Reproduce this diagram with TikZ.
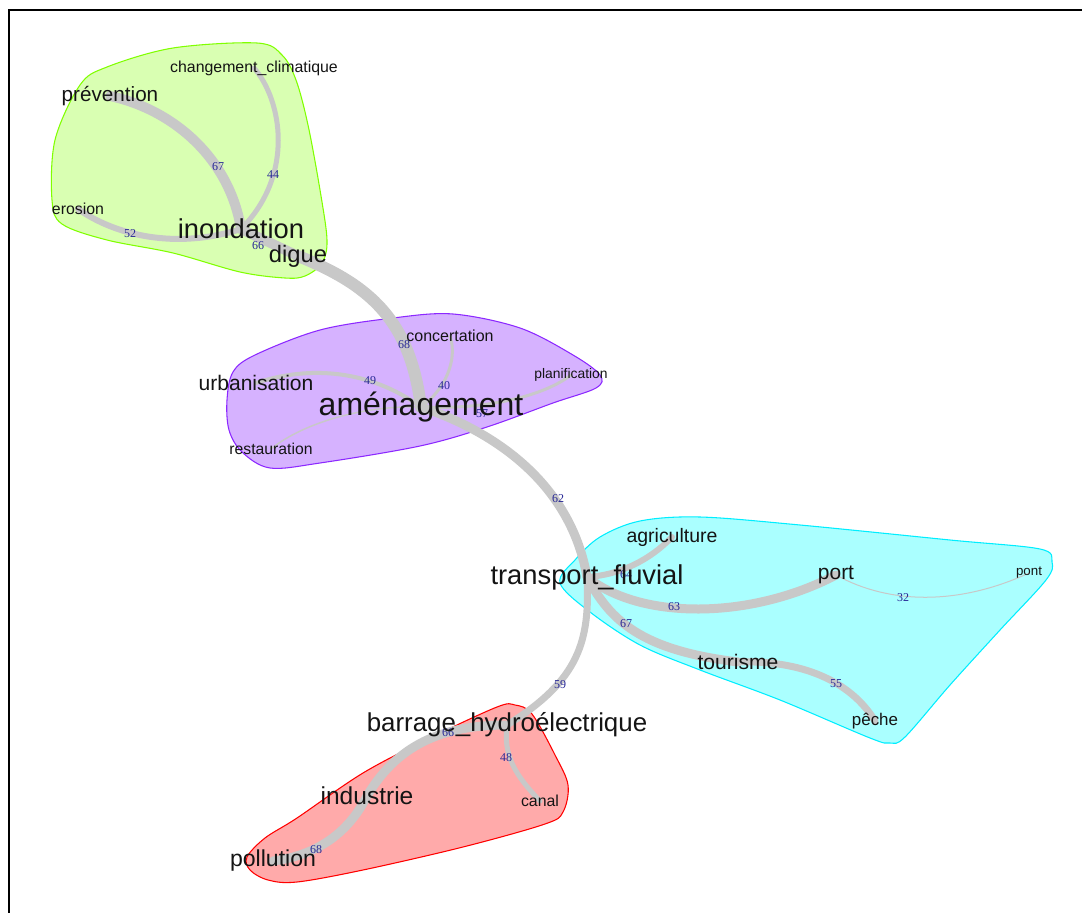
\documentclass[tikz,border=0pt]{standalone}
\usepackage{fontspec}
\setmainfont{Liberation Sans}
\newfontfamily\numfont{Liberation Serif}
\usetikzlibrary{backgrounds}
\pgfdeclarelayer{hull}
\pgfdeclarelayer{edges}
\pgfsetlayers{hull,edges,main}
\definecolor{edgegray}{RGB}{200,200,200}
\definecolor{labblue}{RGB}{40,40,150}
\definecolor{gfill}{RGB}{217,255,178}
\definecolor{gline}{RGB}{128,255,0}
\definecolor{pfill}{RGB}{214,178,255}
\definecolor{pline}{RGB}{140,40,255}
\definecolor{cfill}{RGB}{170,255,255}
\definecolor{cline}{RGB}{0,238,255}
\definecolor{rfill}{RGB}{255,170,170}
\definecolor{rline}{RGB}{255,0,0}
\tikzset{
  word/.style={inner sep=0pt, text=black!92, font=\fontsize{#1}{#1}\selectfont},
  elab/.style={inner sep=0pt, text=labblue, font=\numfont\fontsize{9}{9}\selectfont},
  link/.style={draw=edgegray, line width=#1, line cap=round},
  hullshape/.style={line width=0.8pt},
}
\begin{document}
\begin{tikzpicture}[x=0.75pt,y=-0.75pt]
\useasboundingbox (0,0) rectangle (1082,913);
\draw[line width=1.5pt,black] (9,913) -- (9,10) -- (1082,10);

% word nodes
\node[word=11.9] (chang) at (254,68) {changement\_climatique};
\node[word=15.5] (prev) at (110,96) {prévention};
\node[word=11.9] (eros) at (78,209) {erosion};
\node[word=20.5] (inon) at (241,229) {inondation};
\node[word=17.8] (digue) at (298,256) {digue};
\node[word=12] (conc) at (450,336) {concertation};
\node[word=15.8] (urba) at (256,383) {urbanisation};
\node[word=10.4] (plan) at (571,375) {planification};
\node[word=24] (amen) at (421,407) {aménagement};
\node[word=11.8] (rest) at (271,449) {restauration};
\node[word=14.6] (agri) at (672,537) {agriculture};
\node[word=20.5] (tran) at (587,577) {transport\_fluvial};
\node[word=15.7] (port) at (836,575) {port};
\node[word=10] (pont) at (1029,573) {pont};
\node[word=15.8] (tour) at (738,662) {tourisme};
\node[word=12.7] (peche) at (875,721) {pêche};
\node[word=19.4] (barr) at (507,725) {barrage\_hydroélectrique};
\node[word=18.4] (indu) at (367,796) {industrie};
\node[word=11.9] (canal) at (540,801) {canal};
\node[word=17.3] (poll) at (273,861) {pollution};

\begin{pgfonlayer}{hull}
\filldraw[hullshape, fill=gfill, draw=gline] plot[smooth cycle, tension=0.55] coordinates {
 (52,200) (55,140) (80,85) (107,67) (173,48) (257,43) (282,55) (296,80) (308,125) (320,190) (327,240) (322,263) (305,276) (285,278) (240,272) (173,253) (107,240) (62,224)};
\filldraw[hullshape, fill=pfill, draw=pline] plot[smooth cycle, tension=0.55] coordinates {
 (227,400) (233,372) (255,355) (320,330) (393,318) (453,314) (520,328) (573,355) (600,375) (596,388) (553,403) (487,427) (420,446) (320,463) (270,468) (242,452) (229,430)};
\filldraw[hullshape, fill=cfill, draw=cline] plot[smooth cycle, tension=0.55] coordinates {
 (560,583) (575,560) (600,537) (640,521) (700,517) (800,525) (950,540) (1040,549) (1052,562) (1046,580) (1000,630) (950,685) (905,737) (890,743) (870,738) (780,700) (700,670) (640,645) (590,612)};
\filldraw[hullshape, fill=rfill, draw=rline] plot[smooth cycle, tension=0.55] coordinates {
 (247,857) (265,838) (297,818) (363,773) (430,738) (497,707) (515,705) (532,714) (555,755) (568,785) (563,812) (545,824) (463,847) (363,870) (297,882) (268,880) (250,870)};
\end{pgfonlayer}

\begin{pgfonlayer}{edges}
\draw[link=7.5pt] (prev.center) .. controls (175,110) and (230,160) .. (inon.center);
\draw[link=3.75pt] (chang.center) .. controls (282,100) and (295,175) .. (inon.center);
\draw[link=4.5pt] (eros.center) .. controls (115,235) and (175,250) .. (inon.center);
\draw[link=7.5pt] (inon.center) -- (digue.center);
\draw[link=9pt] (digue.center) .. controls (370,285) and (410,320) .. (amen.center);
\draw[link=2.25pt] (conc.center) .. controls (458,360) and (445,390) .. (amen.center);
\draw[link=3pt] (urba.center) .. controls (310,365) and (370,370) .. (amen.center);
\draw[link=2.25pt] (plan.center) .. controls (545,395) and (490,410) .. (amen.center);
\draw[link=1.1pt] (rest.center) .. controls (300,425) and (360,405) .. (amen.center);
\draw[link=6.75pt] (amen.center) .. controls (490,430) and (570,480) .. (tran.center);
\draw[link=4.5pt] (tran.center) .. controls (620,575) and (650,560) .. (agri.center);
\draw[link=6.75pt] (tran.center) .. controls (640,620) and (750,620) .. (port.center);
\draw[link=6.75pt] (tran.center) .. controls (610,620) and (640,650) .. (tour.center);
\draw[link=0.75pt] (port.center) .. controls (890,605) and (960,605) .. (pont.center);
\draw[link=5.25pt] (tour.center) .. controls (800,660) and (850,680) .. (peche.center);
\draw[link=5.25pt] (tran.center) .. controls (590,640) and (580,680) .. (barr.center);
\draw[link=6.75pt] (barr.center) .. controls (450,725) and (400,740) .. (indu.center);
\draw[link=6.75pt] (indu.center) .. controls (350,830) and (320,855) .. (poll.center);
\draw[link=3.75pt] (barr.center) .. controls (503,755) and (515,775) .. (canal.center);

% edge labels
\node[elab] (l1) at (218,167) {67};
\node[elab] (l2) at (273,175) {44};
\node[elab] (l3) at (130,234) {52};
\node[elab] (l4) at (258,246) {66};
\node[elab] (l5) at (404,345) {68};
\node[elab] (l6) at (370,381) {49};
\node[elab] (l7) at (444,386) {40};
\node[elab] (l8) at (482,414) {57};
\node[elab] (l9) at (558,499) {62};
\node[elab] (l10) at (626,575) {64};
\node[elab] (l11) at (674,607) {63};
\node[elab] (l12) at (626,624) {67};
\node[elab] (l13) at (903,598) {32};
\node[elab] (l14) at (836,684) {55};
\node[elab] (l15) at (560,685) {59};
\node[elab] (l16) at (448,733) {66};
\node[elab] (l17) at (506,758) {48};
\node[elab] (l18) at (316,850) {68};
\end{pgfonlayer}
\end{tikzpicture}
\end{document}
